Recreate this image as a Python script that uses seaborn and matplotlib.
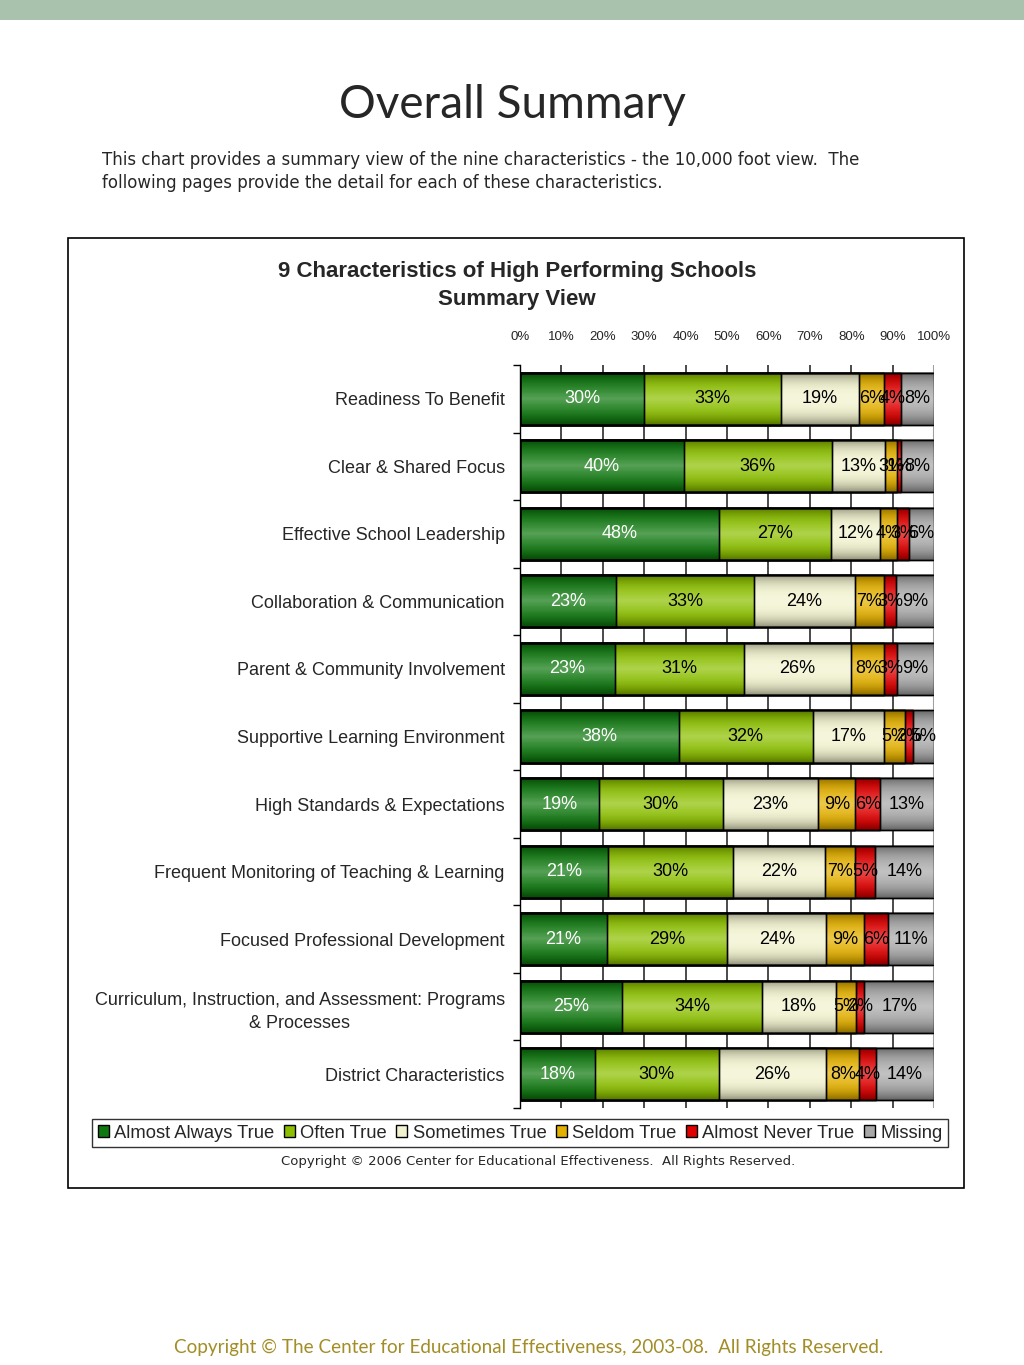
import numpy as np
import pandas as pd
import seaborn as sns
import matplotlib.pyplot as plt
from matplotlib.patches import Patch, Rectangle

# Data
characteristics = [
    "Readiness To Benefit",
    "Clear & Shared Focus",
    "Effective School Leadership",
    "Collaboration & Communication",
    "Parent & Community Involvement",
    "Supportive Learning Environment",
    "High Standards & Expectations",
    "Frequent Monitoring of Teaching & Learning",
    "Focused Professional Development",
    "Curriculum, Instruction, and Assessment: Programs\n& Processes",
    "District Characteristics",
]
responses = ["Almost Always True", "Often True", "Sometimes True",
             "Seldom True", "Almost Never True", "Missing"]
almost_always = [30, 40, 48, 23, 23, 38, 19, 21, 21, 25, 18]
often_true = [33, 36, 27, 33, 31, 32, 30, 30, 29, 34, 30]
sometimes_true = [19, 13, 12, 24, 26, 17, 23, 22, 24, 18, 26]
seldom_true = [6, 3, 4, 7, 8, 5, 9, 7, 9, 5, 8]
almost_never = [4, 1, 3, 3, 3, 2, 6, 5, 6, 2, 4]
missing = [8, 8, 6, 9, 9, 5, 13, 14, 11, 17, 14]
x_ticks = [0, 10, 20, 30, 40, 50, 60, 70, 80, 90, 100]

colors = ['#0f780f', '#8cbf00', '#f2f2cf', '#e3b000', '#e00000', '#a8a8a8']

W, H = 1024, 1365
def fx(px):
    return px / W
def fy(py):
    return 1 - py / H

sns.set_style("white")
plt.rcParams['font.family'] = ['Liberation Sans', 'DejaVu Sans']

vals = np.array([almost_always, often_true, sometimes_true,
                 seldom_true, almost_never, missing], dtype=float).T
# 100% stacked: normalise each row
pct = vals / vals.sum(axis=1, keepdims=True) * 100
cum = np.cumsum(pct, axis=1)

fig = plt.figure(figsize=(W / 100, H / 100), dpi=100)
fig.patch.set_facecolor('white')

# top band
fig.patches.append(Rectangle((0, fy(20)), 1, 20 / H, transform=fig.transFigure,
                             facecolor='#a8c2ad', edgecolor='none', zorder=0))
# chart frame
fig.patches.append(Rectangle((fx(68), fy(1188)), fx(964) - fx(68), (1188 - 238) / H,
                             transform=fig.transFigure, facecolor='none',
                             edgecolor='black', linewidth=1.2, zorder=0))

fig.text(0.5, fy(105), "Overall Summary", ha='center', va='center',
         fontsize=33, family=['Lato', 'DejaVu Sans'])
fig.text(fx(102), fy(160), "This chart provides a summary view of the nine characteristics - the 10,000 foot view.  The",
         ha='left', va='center', fontsize=12, family=['DejaVu Sans'])
fig.text(fx(102), fy(183), "following pages provide the detail for each of these characteristics.",
         ha='left', va='center', fontsize=12, family=['DejaVu Sans'])

fig.text(fx(517), fy(271), "9 Characteristics of High Performing Schools",
         ha='center', va='center', fontsize=16, fontweight='bold')
fig.text(fx(517), fy(300), "Summary View", ha='center', va='center',
         fontsize=16, fontweight='bold')

ax = fig.add_axes([fx(520), fy(1108), fx(934) - fx(520), (1108 - 365) / H])

bar_h = 0.77
# stacked bars: draw cumulative totals from the outermost segment inwards
for k in range(len(responses) - 1, -1, -1):
    sns.barplot(x=cum[:, k], y=characteristics, color=colors[k], orient='h',
                width=bar_h, edgecolor='black', linewidth=1, saturation=1, ax=ax)

# cylinder-like shading over every bar
t = np.linspace(-1, 1, 60)
glow = np.zeros((60, 1, 4))
glow[:, 0, :3] = 1.0
glow[:, 0, 3] = 0.3 * (1 - np.abs(t)) ** 1.5
shade = np.zeros((60, 1, 4))
shade[:, 0, 3] = 0.4 * np.abs(t) ** 3
for i in range(len(characteristics)):
    ext = [0, cum[i, -1], i + bar_h / 2, i - bar_h / 2]
    ax.imshow(glow, extent=ext, aspect='auto', zorder=3, interpolation='bilinear')
    ax.imshow(shade, extent=ext, aspect='auto', zorder=3, interpolation='bilinear')

# edges on top of the shading
for k in range(len(responses) - 1, -1, -1):
    sns.barplot(x=cum[:, k], y=characteristics, color='black', orient='h',
                width=bar_h, fill=False, linewidth=1, ax=ax, zorder=4)

# value labels
for i in range(len(characteristics)):
    left = 0
    for k in range(len(responses)):
        w = pct[i, k]
        ax.text(left + w / 2, i, f"{int(vals[i, k])}%", ha='center', va='center',
                fontsize=13, color='white' if k == 0 else 'black', zorder=6)
        left += w

ax.set_xlim(0, 100)
ax.set_ylim(len(characteristics) - 0.5, -0.5)
ax.set_xticks(x_ticks)
ax.set_xticklabels([f"{v}%" for v in x_ticks])
ax.xaxis.tick_top()
ax.tick_params(axis='x', length=0, pad=16, labelsize=9.5)
ax.set_xlabel('')
ax.set_ylabel('')
ax.tick_params(axis='y', which='major', length=0, pad=11, labelsize=13)
ax.set_yticks(np.arange(-0.5, len(characteristics), 1), minor=True)
ax.tick_params(axis='y', which='minor', length=5, width=1, color='black', left=True)
for lab in ax.get_yticklabels():
    lab.set_multialignment('center')
    lab.set_linespacing(1.45)

ax.grid(axis='x', color='#3c3c3c', linewidth=1.3, zorder=0)
ax.set_axisbelow(True)
for s in ['top', 'right', 'bottom']:
    ax.spines[s].set_visible(False)
ax.spines['left'].set_color('black')
ax.spines['left'].set_linewidth(1)
ax.axvline(100, color='#a0a0a0', linewidth=1.5, zorder=1)

handles = [Patch(facecolor=c, edgecolor='black', linewidth=1) for c in colors]
leg = fig.legend(handles, responses, loc='center', bbox_to_anchor=(fx(520), fy(1133)),
                 ncol=6, fontsize=13.2, frameon=True, fancybox=False,
                 handlelength=0.6, handleheight=0.6, handletextpad=0.3,
                 columnspacing=0.5, borderpad=0.3, borderaxespad=0)
leg.get_frame().set_edgecolor('black')
leg.get_frame().set_linewidth(1)

fig.text(fx(538), fy(1162), "Copyright \u00a9 2006 Center for Educational Effectiveness.  All Rights Reserved.",
         ha='center', va='center', fontsize=9.5, family=['DejaVu Sans'])

fig.text(fx(529), fy(1347), "Copyright \u00a9 The Center for Educational Effectiveness, 2003-08.  All Rights Reserved.",
         ha='center', va='center', fontsize=13.6, color='#a38d26', family=['Lato', 'DejaVu Sans'])

fig.savefig('out.png', dpi=100, facecolor='white')
